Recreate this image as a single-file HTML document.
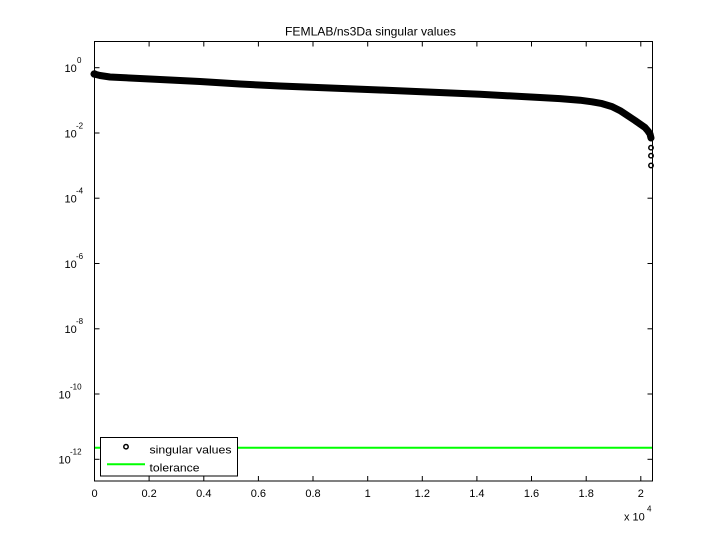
<!DOCTYPE html>
<html>
<head>
<meta charset="utf-8">
<style>
html,body{margin:0;padding:0;background:#fff;}
svg{display:block;}
text{font-family:"Liberation Sans",Arial,sans-serif;fill:#000;}
</style>
</head>
<body>
<svg width="720" height="540" viewBox="0 0 720 540" xmlns="http://www.w3.org/2000/svg">
<rect x="0" y="0" width="720" height="540" fill="#fff"/>
<!-- title -->
<text x="285" y="35.5" font-size="12" textLength="171" lengthAdjust="spacingAndGlyphs">FEMLAB/ns3Da singular values</text>

<!-- tolerance line -->
<line x1="94.5" y1="447.7" x2="652.5" y2="447.7" stroke="#00ff00" stroke-width="2"/>

<!-- singular values band -->
<polyline fill="none" stroke="#000" stroke-width="7" stroke-linejoin="round" stroke-linecap="round"
 points="94,74 100,75.5 110,77 150,79 200,81.5 240,84 280,86 380,90 480,94.3 540,97.5 560,98.6 580,100.2 592,101.8 602,103.6 612,106.6 620,110.6 627,115.2 635,120.5 640,124 645,127.5 648,131 650,134 651,138"/>
<circle cx="94.5" cy="74" r="3.8" fill="#000"/>
<g fill="none" stroke="#000" stroke-width="1.5">
<circle cx="651" cy="147.7" r="2.2"/>
<circle cx="651" cy="155.7" r="2.2"/>
<circle cx="651" cy="165.5" r="2.2"/>
</g>

<!-- axes box -->
<rect x="94.5" y="41.5" width="558" height="439.5" fill="none" stroke="#000" stroke-width="1"/>

<!-- x ticks -->
<g stroke="#000" stroke-width="1">
<line x1="94.5" y1="481" x2="94.5" y2="476"/><line x1="94.5" y1="41.5" x2="94.5" y2="46.5"/>
<line x1="149.1" y1="481" x2="149.1" y2="476"/><line x1="149.1" y1="41.5" x2="149.1" y2="46.5"/>
<line x1="203.8" y1="481" x2="203.8" y2="476"/><line x1="203.8" y1="41.5" x2="203.8" y2="46.5"/>
<line x1="258.4" y1="481" x2="258.4" y2="476"/><line x1="258.4" y1="41.5" x2="258.4" y2="46.5"/>
<line x1="313.0" y1="481" x2="313.0" y2="476"/><line x1="313.0" y1="41.5" x2="313.0" y2="46.5"/>
<line x1="367.7" y1="481" x2="367.7" y2="476"/><line x1="367.7" y1="41.5" x2="367.7" y2="46.5"/>
<line x1="422.3" y1="481" x2="422.3" y2="476"/><line x1="422.3" y1="41.5" x2="422.3" y2="46.5"/>
<line x1="476.9" y1="481" x2="476.9" y2="476"/><line x1="476.9" y1="41.5" x2="476.9" y2="46.5"/>
<line x1="531.5" y1="481" x2="531.5" y2="476"/><line x1="531.5" y1="41.5" x2="531.5" y2="46.5"/>
<line x1="586.2" y1="481" x2="586.2" y2="476"/><line x1="586.2" y1="41.5" x2="586.2" y2="46.5"/>
<line x1="640.8" y1="481" x2="640.8" y2="476"/><line x1="640.8" y1="41.5" x2="640.8" y2="46.5"/>
</g>
<!-- y ticks -->
<g stroke="#000" stroke-width="1">
<line x1="94.5" y1="67.7" x2="99.5" y2="67.7"/><line x1="652.5" y1="67.7" x2="647.5" y2="67.7"/>
<line x1="94.5" y1="133" x2="99.5" y2="133"/><line x1="652.5" y1="133" x2="647.5" y2="133"/>
<line x1="94.5" y1="198.2" x2="99.5" y2="198.2"/><line x1="652.5" y1="198.2" x2="647.5" y2="198.2"/>
<line x1="94.5" y1="263.5" x2="99.5" y2="263.5"/><line x1="652.5" y1="263.5" x2="647.5" y2="263.5"/>
<line x1="94.5" y1="328.8" x2="99.5" y2="328.8"/><line x1="652.5" y1="328.8" x2="647.5" y2="328.8"/>
<line x1="94.5" y1="394" x2="99.5" y2="394"/><line x1="652.5" y1="394" x2="647.5" y2="394"/>
<line x1="94.5" y1="459.3" x2="99.5" y2="459.3"/><line x1="652.5" y1="459.3" x2="647.5" y2="459.3"/>
</g>

<!-- x tick labels -->
<g font-size="11" text-anchor="middle">
<text x="94.5" y="497">0</text>
<text x="149.1" y="497">0.2</text>
<text x="203.8" y="497">0.4</text>
<text x="258.4" y="497">0.6</text>
<text x="313.0" y="497">0.8</text>
<text x="367.7" y="497">1</text>
<text x="422.3" y="497">1.2</text>
<text x="476.9" y="497">1.4</text>
<text x="531.5" y="497">1.6</text>
<text x="586.2" y="497">1.8</text>
<text x="640.8" y="497">2</text>
</g>
<text x="624" y="520.5" font-size="11">x 10</text>
<text x="647" y="511.5" font-size="8">4</text>

<!-- y tick labels -->
<g font-size="11">
<text x="64.5" y="72">10</text><text x="77" y="63" font-size="8">0</text>
<text x="64.5" y="137.3">10</text><text x="76" y="128.3" font-size="8">-2</text>
<text x="64.5" y="202.5">10</text><text x="76" y="193.5" font-size="8">-4</text>
<text x="64.5" y="267.8">10</text><text x="76" y="258.8" font-size="8">-6</text>
<text x="64.5" y="333.1">10</text><text x="76" y="324.1" font-size="8">-8</text>
<text x="58.5" y="398.3">10</text><text x="70" y="389.3" font-size="8">-10</text>
<text x="58.5" y="463.6">10</text><text x="70" y="454.6" font-size="8">-12</text>
</g>

<!-- legend -->
<rect x="100.5" y="437.5" width="137" height="38.5" fill="#fff" stroke="#000" stroke-width="1"/>
<circle cx="126" cy="446.7" r="2.2" fill="none" stroke="#000" stroke-width="1.5"/>
<text x="149.5" y="453.5" font-size="11" textLength="82" lengthAdjust="spacingAndGlyphs">singular values</text>
<line x1="107" y1="464.3" x2="145" y2="464.3" stroke="#00ff00" stroke-width="2"/>
<text x="149.5" y="471.5" font-size="11" textLength="50" lengthAdjust="spacingAndGlyphs">tolerance</text>
</svg>
</body>
</html>
